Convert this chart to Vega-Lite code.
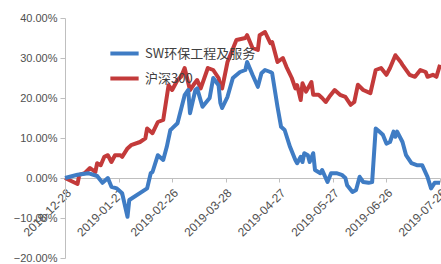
{
  "$schema": "https://vega.github.io/schema/vega-lite/v6.json",
  "width": 375,
  "height": 240,
  "autosize": {"type": "none"},
  "padding": {"left": 65, "top": 18, "right": 1, "bottom": 6},
  "background": "white",
  "config": {"view": {"stroke": null}, "font": "Liberation Sans"},
  "data": {"values": [
    {"d":"2018-12-28","s":"沪深300","v":0},
    {"d":"2019-01-04","s":"沪深300","v":-0.015},
    {"d":"2019-01-05","s":"沪深300","v":0.008},
    {"d":"2019-01-08","s":"沪深300","v":0.012},
    {"d":"2019-01-11","s":"沪深300","v":0.025},
    {"d":"2019-01-14","s":"沪深300","v":0.015},
    {"d":"2019-01-15","s":"沪深300","v":0.037},
    {"d":"2019-01-17","s":"沪深300","v":0.032},
    {"d":"2019-01-19","s":"沪深300","v":0.053},
    {"d":"2019-01-21","s":"沪深300","v":0.057},
    {"d":"2019-01-23","s":"沪深300","v":0.04},
    {"d":"2019-01-25","s":"沪深300","v":0.057},
    {"d":"2019-01-28","s":"沪深300","v":0.057},
    {"d":"2019-01-29","s":"沪深300","v":0.053},
    {"d":"2019-02-01","s":"沪深300","v":0.074},
    {"d":"2019-02-03","s":"沪深300","v":0.082},
    {"d":"2019-02-08","s":"沪深300","v":0.09},
    {"d":"2019-02-11","s":"沪深300","v":0.099},
    {"d":"2019-02-12","s":"沪深300","v":0.124},
    {"d":"2019-02-15","s":"沪深300","v":0.112},
    {"d":"2019-02-18","s":"沪深300","v":0.14},
    {"d":"2019-02-21","s":"沪深300","v":0.145},
    {"d":"2019-02-24","s":"沪深300","v":0.232},
    {"d":"2019-02-26","s":"沪深300","v":0.22},
    {"d":"2019-03-01","s":"沪深300","v":0.245},
    {"d":"2019-03-03","s":"沪深300","v":0.253},
    {"d":"2019-03-05","s":"沪深300","v":0.275},
    {"d":"2019-03-08","s":"沪深300","v":0.22},
    {"d":"2019-03-10","s":"沪深300","v":0.233},
    {"d":"2019-03-12","s":"沪深300","v":0.245},
    {"d":"2019-03-14","s":"沪深300","v":0.224},
    {"d":"2019-03-18","s":"沪深300","v":0.275},
    {"d":"2019-03-21","s":"沪深300","v":0.27},
    {"d":"2019-03-24","s":"沪深300","v":0.25},
    {"d":"2019-03-25","s":"沪深300","v":0.23},
    {"d":"2019-03-26","s":"沪深300","v":0.224},
    {"d":"2019-03-29","s":"沪深300","v":0.29},
    {"d":"2019-04-03","s":"沪深300","v":0.345},
    {"d":"2019-04-08","s":"沪深300","v":0.35},
    {"d":"2019-04-09","s":"沪深300","v":0.357},
    {"d":"2019-04-12","s":"沪深300","v":0.325},
    {"d":"2019-04-15","s":"沪深300","v":0.32},
    {"d":"2019-04-16","s":"沪深300","v":0.357},
    {"d":"2019-04-19","s":"沪深300","v":0.365},
    {"d":"2019-04-22","s":"沪深300","v":0.337},
    {"d":"2019-04-23","s":"沪深300","v":0.34},
    {"d":"2019-04-26","s":"沪深300","v":0.29},
    {"d":"2019-04-29","s":"沪深300","v":0.30},
    {"d":"2019-05-01","s":"沪深300","v":0.278},
    {"d":"2019-05-04","s":"沪深300","v":0.25},
    {"d":"2019-05-06","s":"沪深300","v":0.224},
    {"d":"2019-05-07","s":"沪深300","v":0.232},
    {"d":"2019-05-09","s":"沪深300","v":0.195},
    {"d":"2019-05-10","s":"沪深300","v":0.237},
    {"d":"2019-05-12","s":"沪深300","v":0.216},
    {"d":"2019-05-15","s":"沪深300","v":0.24},
    {"d":"2019-05-16","s":"沪深300","v":0.208},
    {"d":"2019-05-19","s":"沪深300","v":0.208},
    {"d":"2019-05-21","s":"沪深300","v":0.20},
    {"d":"2019-05-23","s":"沪深300","v":0.19},
    {"d":"2019-05-25","s":"沪深300","v":0.203},
    {"d":"2019-05-28","s":"沪深300","v":0.22},
    {"d":"2019-05-31","s":"沪深300","v":0.208},
    {"d":"2019-06-03","s":"沪深300","v":0.203},
    {"d":"2019-06-06","s":"沪深300","v":0.183},
    {"d":"2019-06-08","s":"沪深300","v":0.19},
    {"d":"2019-06-10","s":"沪深300","v":0.233},
    {"d":"2019-06-13","s":"沪深300","v":0.22},
    {"d":"2019-06-17","s":"沪深300","v":0.212},
    {"d":"2019-06-20","s":"沪深300","v":0.27},
    {"d":"2019-06-23","s":"沪深300","v":0.275},
    {"d":"2019-06-26","s":"沪深300","v":0.258},
    {"d":"2019-06-28","s":"沪深300","v":0.275},
    {"d":"2019-07-01","s":"沪深300","v":0.307},
    {"d":"2019-07-04","s":"沪深300","v":0.29},
    {"d":"2019-07-05","s":"沪深300","v":0.283},
    {"d":"2019-07-09","s":"沪深300","v":0.258},
    {"d":"2019-07-12","s":"沪深300","v":0.253},
    {"d":"2019-07-15","s":"沪深300","v":0.27},
    {"d":"2019-07-18","s":"沪深300","v":0.265},
    {"d":"2019-07-19","s":"沪深300","v":0.253},
    {"d":"2019-07-22","s":"沪深300","v":0.258},
    {"d":"2019-07-24","s":"沪深300","v":0.253},
    {"d":"2019-07-26","s":"沪深300","v":0.283},
    {"d":"2018-12-28","s":"SW环保工程及服务","v":0},
    {"d":"2019-01-04","s":"SW环保工程及服务","v":0.008},
    {"d":"2019-01-10","s":"SW环保工程及服务","v":0.012},
    {"d":"2019-01-15","s":"SW环保工程及服务","v":0.005},
    {"d":"2019-01-18","s":"SW环保工程及服务","v":-0.012},
    {"d":"2019-01-21","s":"SW环保工程及服务","v":0},
    {"d":"2019-01-23","s":"SW环保工程及服务","v":-0.022},
    {"d":"2019-01-26","s":"SW环保工程及服务","v":-0.026},
    {"d":"2019-01-29","s":"SW环保工程及服务","v":-0.038},
    {"d":"2019-02-01","s":"SW环保工程及服务","v":-0.097},
    {"d":"2019-02-02","s":"SW环保工程及服务","v":-0.055},
    {"d":"2019-02-12","s":"SW环保工程及服务","v":-0.026},
    {"d":"2019-02-14","s":"SW环保工程及服务","v":0.012},
    {"d":"2019-02-15","s":"SW环保工程及服务","v":0.015},
    {"d":"2019-02-18","s":"SW环保工程及服务","v":0.057},
    {"d":"2019-02-21","s":"SW环保工程及服务","v":0.045},
    {"d":"2019-02-23","s":"SW环保工程及服务","v":0.078},
    {"d":"2019-02-25","s":"SW环保工程及服务","v":0.12},
    {"d":"2019-02-26","s":"SW环保工程及服务","v":0.124},
    {"d":"2019-03-01","s":"SW环保工程及服务","v":0.137},
    {"d":"2019-03-05","s":"SW环保工程及服务","v":0.207},
    {"d":"2019-03-07","s":"SW环保工程及服务","v":0.22},
    {"d":"2019-03-08","s":"SW环保工程及服务","v":0.162},
    {"d":"2019-03-11","s":"SW环保工程及服务","v":0.22},
    {"d":"2019-03-12","s":"SW环保工程及服务","v":0.224},
    {"d":"2019-03-15","s":"SW环保工程及服务","v":0.178},
    {"d":"2019-03-19","s":"SW环保工程及服务","v":0.20},
    {"d":"2019-03-21","s":"SW环保工程及服务","v":0.25},
    {"d":"2019-03-24","s":"SW环保工程及服务","v":0.232},
    {"d":"2019-03-25","s":"SW环保工程及服务","v":0.188},
    {"d":"2019-03-26","s":"SW环保工程及服务","v":0.175},
    {"d":"2019-03-29","s":"SW环保工程及服务","v":0.203},
    {"d":"2019-04-01","s":"SW环保工程及服务","v":0.25},
    {"d":"2019-04-05","s":"SW环保工程及服务","v":0.265},
    {"d":"2019-04-08","s":"SW环保工程及服务","v":0.27},
    {"d":"2019-04-09","s":"SW环保工程及服务","v":0.29},
    {"d":"2019-04-12","s":"SW环保工程及服务","v":0.258},
    {"d":"2019-04-15","s":"SW环保工程及服务","v":0.228},
    {"d":"2019-04-17","s":"SW环保工程及服务","v":0.262},
    {"d":"2019-04-19","s":"SW环保工程及服务","v":0.27},
    {"d":"2019-04-22","s":"SW环保工程及服务","v":0.265},
    {"d":"2019-04-23","s":"SW环保工程及服务","v":0.262},
    {"d":"2019-04-26","s":"SW环保工程及服务","v":0.178},
    {"d":"2019-04-28","s":"SW环保工程及服务","v":0.128},
    {"d":"2019-04-30","s":"SW环保工程及服务","v":0.12},
    {"d":"2019-05-03","s":"SW环保工程及服务","v":0.078},
    {"d":"2019-05-06","s":"SW环保工程及服务","v":0.045},
    {"d":"2019-05-07","s":"SW环保工程及服务","v":0.037},
    {"d":"2019-05-09","s":"SW环保工程及服务","v":0.053},
    {"d":"2019-05-10","s":"SW环保工程及服务","v":0.04},
    {"d":"2019-05-11","s":"SW环保工程及服务","v":0.062},
    {"d":"2019-05-13","s":"SW环保工程及服务","v":0.057},
    {"d":"2019-05-14","s":"SW环保工程及服务","v":0.04},
    {"d":"2019-05-16","s":"SW环保工程及服务","v":0.062},
    {"d":"2019-05-17","s":"SW环保工程及服务","v":0.02},
    {"d":"2019-05-20","s":"SW环保工程及服务","v":0.012},
    {"d":"2019-05-21","s":"SW环保工程及服务","v":0.02},
    {"d":"2019-05-24","s":"SW环保工程及服务","v":-0.01},
    {"d":"2019-05-26","s":"SW环保工程及服务","v":0.012},
    {"d":"2019-05-29","s":"SW环保工程及服务","v":0.012},
    {"d":"2019-06-01","s":"SW环保工程及服务","v":0.008},
    {"d":"2019-06-03","s":"SW环保工程及服务","v":0},
    {"d":"2019-06-04","s":"SW环保工程及服务","v":-0.018},
    {"d":"2019-06-07","s":"SW环保工程及服务","v":-0.035},
    {"d":"2019-06-09","s":"SW环保工程及服务","v":-0.03},
    {"d":"2019-06-11","s":"SW环保工程及服务","v":0.003},
    {"d":"2019-06-13","s":"SW环保工程及服务","v":-0.01},
    {"d":"2019-06-16","s":"SW环保工程及服务","v":-0.012},
    {"d":"2019-06-18","s":"SW环保工程及服务","v":-0.01},
    {"d":"2019-06-20","s":"SW环保工程及服务","v":0.124},
    {"d":"2019-06-22","s":"SW环保工程及服务","v":0.116},
    {"d":"2019-06-24","s":"SW环保工程及服务","v":0.108},
    {"d":"2019-06-26","s":"SW环保工程及服务","v":0.086},
    {"d":"2019-06-28","s":"SW环保工程及服务","v":0.09},
    {"d":"2019-06-30","s":"SW环保工程及服务","v":0.116},
    {"d":"2019-07-01","s":"SW环保工程及服务","v":0.103},
    {"d":"2019-07-02","s":"SW环保工程及服务","v":0.116},
    {"d":"2019-07-05","s":"SW环保工程及服务","v":0.09},
    {"d":"2019-07-07","s":"SW环保工程及服务","v":0.057},
    {"d":"2019-07-10","s":"SW环保工程及服务","v":0.037},
    {"d":"2019-07-13","s":"SW环保工程及服务","v":0.032},
    {"d":"2019-07-16","s":"SW环保工程及服务","v":0.032},
    {"d":"2019-07-19","s":"SW环保工程及服务","v":0.003},
    {"d":"2019-07-21","s":"SW环保工程及服务","v":-0.026},
    {"d":"2019-07-23","s":"SW环保工程及服务","v":-0.012},
    {"d":"2019-07-26","s":"SW环保工程及服务","v":-0.012}
  ]},
  "mark": {"type": "line", "strokeWidth": 4, "strokeJoin": "round", "clip": false},
  "encoding": {
    "x": {
      "field": "d", "type": "temporal",
      "scale": {"type": "utc", "domain": [{"year": 2018, "month": 12, "date": 28, "utc": true}, {"year": 2019, "month": 7, "date": 26, "utc": true}]},
      "axis": {
        "title": null, "grid": false, "offset": -80,
        "values": [
          {"year": 2018, "month": 12, "date": 28, "utc": true},
          {"year": 2019, "month": 1, "date": 27, "utc": true},
          {"year": 2019, "month": 2, "date": 26, "utc": true},
          {"year": 2019, "month": 3, "date": 28, "utc": true},
          {"year": 2019, "month": 4, "date": 27, "utc": true},
          {"year": 2019, "month": 5, "date": 27, "utc": true},
          {"year": 2019, "month": 6, "date": 26, "utc": true},
          {"year": 2019, "month": 7, "date": 26, "utc": true}
        ],
        "labelExpr": "utcFormat(datum.value, '%Y-%m-%d')",
        "labelAngle": -45, "labelFontSize": 12, "labelColor": "#505050",
        "labelPadding": 5, "labelOverlap": false, "labelBound": false,
        "domainColor": "#bfbfbf", "tickColor": "#bfbfbf", "tickSize": 4
      }
    },
    "y": {
      "field": "v", "type": "quantitative",
      "scale": {"domain": [-0.2, 0.4], "nice": false, "zero": false},
      "axis": {
        "title": null, "grid": false, "format": ".2%", "values": [-0.2, -0.1, 0, 0.1, 0.2, 0.3, 0.4],
        "labelFontSize": 11, "labelColor": "#505050", "labelPadding": 3,
        "domainColor": "#bfbfbf", "tickColor": "#bfbfbf", "tickSize": 5
      }
    },
    "color": {
      "field": "s", "type": "nominal",
      "scale": {"domain": ["SW环保工程及服务", "沪深300"], "range": ["#3f7cc4", "#c33a3a"]},
      "legend": {
        "title": null, "orient": "none", "legendX": 43, "legendY": 19,
        "symbolType": "stroke", "symbolSize": 800, "symbolStrokeWidth": 4,
        "labelFont": "Noto Sans CJK SC", "labelFontSize": 13, "labelColor": "#404040",
        "rowPadding": -7, "labelOffset": 4
      }
    }
  }
}
